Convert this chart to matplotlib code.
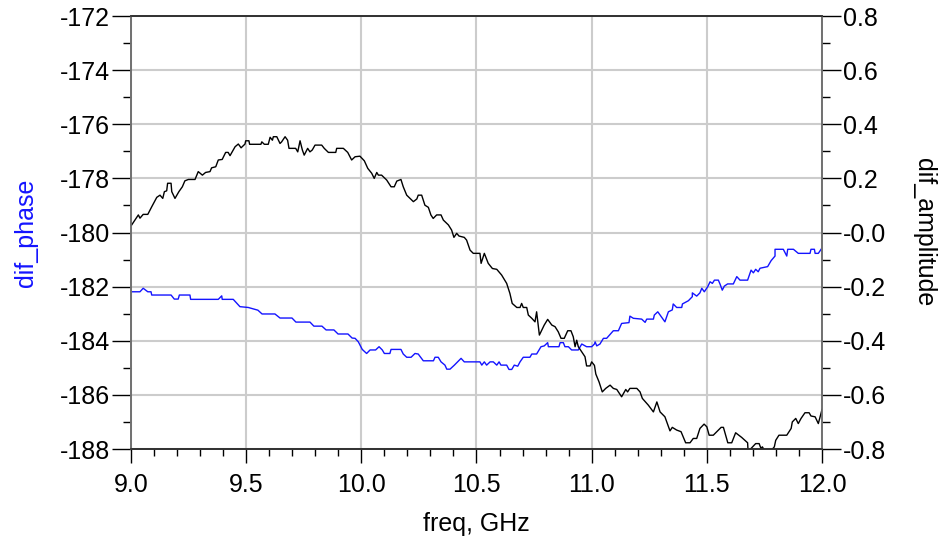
import matplotlib
matplotlib.use("Agg")
import matplotlib.pyplot as plt
from matplotlib.ticker import MultipleLocator, FixedLocator

plt.rcParams['font.family'] = ['Liberation Sans', 'DejaVu Sans']
plt.rcParams['axes.unicode_minus'] = False

# dif_phase (left axis, blue)
phase_freq = [9.003, 9.039, 9.053, 9.073, 9.087, 9.090, 9.174, 9.188, 9.205, 9.210,
              9.256, 9.259, 9.379, 9.394, 9.396, 9.444, 9.473, 9.509, 9.551, 9.569,
              9.625, 9.647, 9.699, 9.716, 9.777, 9.794, 9.829, 9.847, 9.881, 9.899,
              9.942, 9.960, 9.973, 9.987, 10.004, 10.023, 10.038, 10.062, 10.077, 10.091,
              10.100, 10.124, 10.129, 10.172, 10.182, 10.197, 10.216, 10.233, 10.247, 10.269,
              10.313, 10.320, 10.334, 10.346, 10.363, 10.371, 10.385, 10.404, 10.418, 10.433,
              10.447, 10.515, 10.523, 10.534, 10.544, 10.559, 10.573, 10.588, 10.598, 10.606,
              10.631, 10.641, 10.653, 10.664, 10.679, 10.689, 10.703, 10.732, 10.740, 10.761,
              10.780, 10.794, 10.809, 10.812, 10.858, 10.863, 10.877, 10.884, 10.899, 10.913,
              10.942, 10.957, 10.978, 11.000, 11.012, 11.015, 11.022, 11.036, 11.051, 11.065,
              11.094, 11.116, 11.130, 11.162, 11.166, 11.181, 11.217, 11.232, 11.239, 11.268,
              11.272, 11.287, 11.297, 11.318, 11.333, 11.350, 11.354, 11.369, 11.391, 11.394,
              11.420, 11.437, 11.437, 11.456, 11.470, 11.478, 11.489, 11.504, 11.514, 11.524,
              11.533, 11.550, 11.557, 11.567, 11.576, 11.590, 11.615, 11.630, 11.644, 11.677,
              11.692, 11.702, 11.712, 11.723, 11.731, 11.764, 11.779, 11.796, 11.796, 11.832,
              11.847, 11.851, 11.876, 11.897, 11.948, 11.952, 11.967, 11.970, 11.984, 12.000]
phase = [-182.19, -182.19, -182.06, -182.19, -182.19, -182.31, -182.31, -182.46, -182.46, -182.31,
         -182.31, -182.47, -182.47, -182.34, -182.47, -182.47, -182.74, -182.77, -182.87, -183.01,
         -183.01, -183.16, -183.16, -183.31, -183.31, -183.46, -183.46, -183.60, -183.60, -183.75,
         -183.75, -183.90, -183.91, -184.04, -184.32, -184.47, -184.34, -184.34, -184.22, -184.34,
         -184.47, -184.47, -184.32, -184.32, -184.49, -184.61, -184.61, -184.47, -184.49, -184.74,
         -184.74, -184.61, -184.61, -184.78, -184.90, -185.05, -185.05, -184.90, -184.78, -184.65,
         -184.78, -184.78, -184.90, -184.78, -184.90, -184.78, -184.78, -184.90, -184.78, -184.90,
         -184.90, -185.06, -185.06, -184.90, -184.94, -184.78, -184.61, -184.61, -184.49, -184.49,
         -184.22, -184.19, -184.07, -184.22, -184.22, -184.07, -184.07, -184.22, -184.22, -184.34,
         -184.34, -184.12, -184.22, -184.22, -184.12, -184.04, -184.19, -184.12, -183.91, -183.91,
         -183.63, -183.63, -183.36, -183.33, -183.09, -183.17, -183.20, -183.32, -183.20, -183.20,
         -183.05, -182.93, -183.05, -183.30, -182.93, -182.86, -182.64, -182.77, -182.77, -182.64,
         -182.52, -182.37, -182.23, -182.35, -182.23, -182.06, -182.19, -182.00, -181.82, -181.88,
         -181.76, -181.76, -181.90, -182.13, -181.98, -181.90, -181.90, -181.63, -181.76, -181.76,
         -181.39, -181.49, -181.36, -181.45, -181.32, -181.26, -181.04, -180.87, -180.62, -180.62,
         -180.87, -180.62, -180.62, -180.77, -180.77, -180.62, -180.62, -180.77, -180.77, -180.57]

# dif_amplitude (right axis, black)
amp_freq = [9.003, 9.032, 9.039, 9.053, 9.073, 9.090, 9.112, 9.126, 9.138, 9.145,
            9.155, 9.159, 9.174, 9.177, 9.191, 9.208, 9.223, 9.234, 9.249, 9.278,
            9.292, 9.310, 9.324, 9.343, 9.350, 9.368, 9.379, 9.396, 9.411, 9.422,
            9.430, 9.444, 9.452, 9.466, 9.478, 9.495, 9.498, 9.512, 9.515, 9.564,
            9.568, 9.579, 9.596, 9.604, 9.614, 9.618, 9.633, 9.647, 9.654, 9.669,
            9.680, 9.686, 9.715, 9.724, 9.734, 9.744, 9.752, 9.767, 9.777, 9.787,
            9.799, 9.828, 9.839, 9.857, 9.889, 9.893, 9.922, 9.941, 9.958, 9.973,
            9.994, 10.013, 10.028, 10.045, 10.056, 10.067, 10.074, 10.088, 10.110, 10.129,
            10.143, 10.154, 10.172, 10.182, 10.197, 10.226, 10.241, 10.247, 10.262, 10.276,
            10.291, 10.302, 10.312, 10.327, 10.346, 10.356, 10.378, 10.392, 10.402, 10.414,
            10.424, 10.447, 10.457, 10.472, 10.486, 10.515, 10.520, 10.534, 10.551, 10.569,
            10.588, 10.609, 10.631, 10.645, 10.655, 10.675, 10.689, 10.696, 10.703, 10.718,
            10.725, 10.740, 10.754, 10.761, 10.773, 10.794, 10.809, 10.827, 10.841, 10.855,
            10.867, 10.881, 10.896, 10.910, 10.920, 10.928, 10.935, 10.942, 10.971, 10.978,
            10.993, 11.000, 11.012, 11.018, 11.032, 11.046, 11.061, 11.080, 11.094, 11.109,
            11.130, 11.148, 11.156, 11.166, 11.196, 11.210, 11.220, 11.246, 11.268, 11.283,
            11.297, 11.318, 11.340, 11.350, 11.369, 11.388, 11.408, 11.427, 11.441, 11.456,
            11.470, 11.488, 11.500, 11.510, 11.528, 11.562, 11.572, 11.591, 11.608, 11.625,
            11.651, 11.677, 11.680, 11.692, 11.712, 11.727, 11.735, 11.741, 11.760, 11.774,
            11.793, 11.799, 11.813, 11.847, 11.866, 11.871, 11.886, 11.897, 11.909, 11.926,
            11.944, 11.952, 11.970, 11.984, 12.000]
amp = [0.028, 0.065, 0.053, 0.067, 0.067, 0.095, 0.130, 0.138, 0.126, 0.151,
       0.154, 0.182, 0.182, 0.151, 0.126, 0.151, 0.169, 0.191, 0.196, 0.196,
       0.225, 0.212, 0.222, 0.225, 0.239, 0.243, 0.268, 0.270, 0.296, 0.296,
       0.284, 0.305, 0.317, 0.327, 0.313, 0.327, 0.339, 0.339, 0.326, 0.326,
       0.335, 0.326, 0.326, 0.352, 0.341, 0.354, 0.354, 0.329, 0.335, 0.354,
       0.341, 0.311, 0.311, 0.298, 0.339, 0.305, 0.286, 0.311, 0.298, 0.305,
       0.323, 0.323, 0.311, 0.296, 0.296, 0.311, 0.311, 0.296, 0.268, 0.280,
       0.282, 0.265, 0.237, 0.219, 0.200, 0.222, 0.212, 0.212, 0.194, 0.169,
       0.169, 0.190, 0.196, 0.169, 0.138, 0.114, 0.124, 0.138, 0.138, 0.101,
       0.093, 0.065, 0.052, 0.065, 0.065, 0.046, 0.028, 0.009, -0.018, -0.003,
       -0.013, -0.018, -0.028, -0.065, -0.077, -0.077, -0.114, -0.077, -0.114, -0.133,
       -0.136, -0.157, -0.188, -0.225, -0.262, -0.277, -0.277, -0.262, -0.277, -0.277,
       -0.305, -0.317, -0.330, -0.293, -0.379, -0.342, -0.321, -0.342, -0.348, -0.367,
       -0.391, -0.391, -0.363, -0.363, -0.385, -0.422, -0.398, -0.422, -0.459, -0.493,
       -0.493, -0.478, -0.491, -0.523, -0.552, -0.589, -0.576, -0.564, -0.576, -0.580,
       -0.607, -0.580, -0.589, -0.576, -0.576, -0.589, -0.613, -0.638, -0.663, -0.626,
       -0.663, -0.681, -0.733, -0.720, -0.730, -0.736, -0.777, -0.777, -0.761, -0.761,
       -0.724, -0.708, -0.718, -0.749, -0.749, -0.720, -0.720, -0.777, -0.777, -0.740,
       -0.757, -0.777, -0.823, -0.798, -0.780, -0.780, -0.798, -0.792, -0.819, -0.811,
       -0.792, -0.768, -0.749, -0.749, -0.724, -0.700, -0.687, -0.706, -0.687, -0.666,
       -0.666, -0.678, -0.681, -0.706, -0.654]

x_ticks = [9.0, 9.5, 10.0, 10.5, 11.0, 11.5, 12.0]
phase_ticks = [-188, -186, -184, -182, -180, -178, -176, -174, -172]
amp_ticks = [-0.8, -0.6, -0.4, -0.2, 0.0, 0.2, 0.4, 0.6, 0.8]
amp_labels = ['-0.8', '-0.6', '-0.4', '-0.2', '-0.0', '0.2', '0.4', '0.6', '0.8']

fig = plt.figure(figsize=(9.43, 5.43), dpi=100)
ax = fig.add_axes([0.1389, 0.1731, 0.7328, 0.7974])
ax2 = ax.twinx()

ax.plot(phase_freq, phase, color='#1414ff', lw=1.0)
ax2.plot(amp_freq, amp, color='black', lw=1.0)

ax.set_xlim(9.0, 12.0)
ax.set_ylim(-188, -172)
ax2.set_ylim(-0.8, 0.8)

ax.xaxis.set_major_locator(FixedLocator(x_ticks))
ax.xaxis.set_minor_locator(MultipleLocator(0.1))
ax.set_xticklabels([f'{v:.1f}' for v in x_ticks])
ax.yaxis.set_major_locator(FixedLocator(phase_ticks))
ax.yaxis.set_minor_locator(MultipleLocator(1))
ax.set_yticklabels([str(v) for v in phase_ticks])
ax2.yaxis.set_major_locator(FixedLocator(amp_ticks))
ax2.yaxis.set_minor_locator(MultipleLocator(0.1))
ax2.set_yticklabels(amp_labels)

ax.grid(True, which='major', color='#cccccc', lw=1.5)
ax.set_axisbelow(True)

ax.tick_params(axis='x', which='major', direction='out', length=10, width=1, pad=7, labelsize=18)
ax.tick_params(axis='x', which='minor', direction='out', length=5, width=1)
ax.tick_params(axis='y', which='major', direction='out', length=14, width=1, pad=1, labelsize=18)
ax.tick_params(axis='y', which='minor', direction='out', length=6, width=1)
ax2.tick_params(axis='y', which='major', direction='out', length=14, width=1, pad=1, labelsize=18)
ax2.tick_params(axis='y', which='minor', direction='out', length=6, width=1)

for a in (ax, ax2):
    a.spines['left'].set_color('#707070')
    a.spines['right'].set_color('#707070')
    a.spines['bottom'].set_color('#303030')
    a.spines['top'].set_color('#303030')
    for s in a.spines.values():
        s.set_linewidth(1.2)

ax.set_xlabel('freq, GHz', fontsize=18, labelpad=11)
ax.set_ylabel('dif_phase', fontsize=18, color='#1414ff', labelpad=16)
ax2.set_ylabel('dif_amplitude', fontsize=18, color='black', rotation=270, labelpad=36)

fig.savefig('out.png', dpi=100)
